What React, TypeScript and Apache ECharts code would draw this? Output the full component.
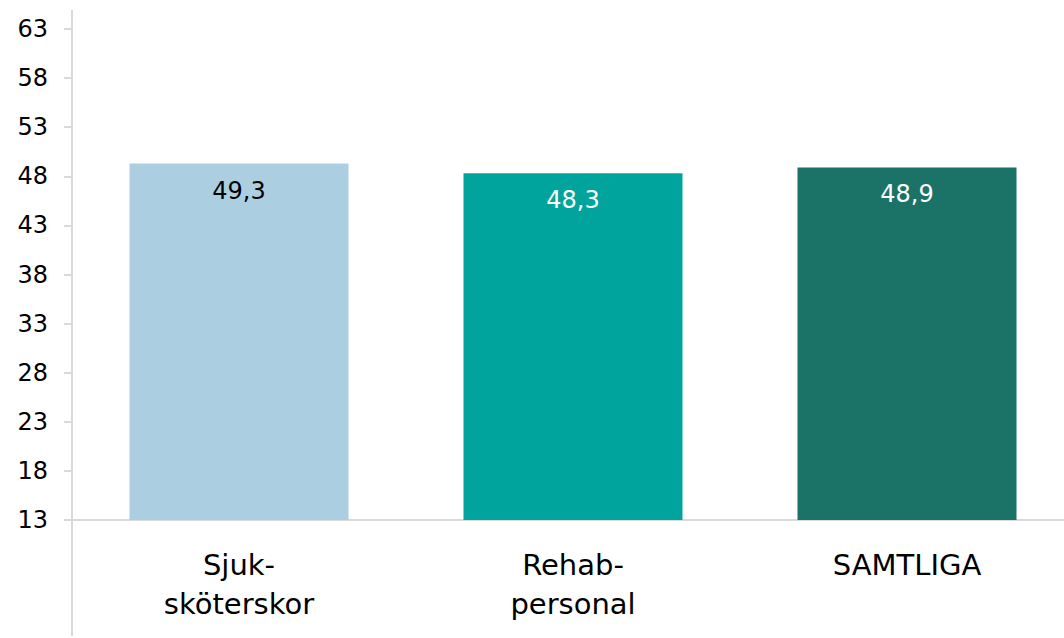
import React, { useEffect, useRef } from "react";
import * as echarts from "echarts";

const categories = ["Sjuk-\nsköterskor", "Rehab-\npersonal", "SAMTLIGA"];
const values = [49.3, 48.3, 48.9];
const barColors = ["#abcfe1", "#00a49c", "#1b7368"];
const labelColors = ["#000000", "#ffffff", "#ffffff"];
const yMin = 13;
const yMax = 63;
const yInterval = 5;

const FONT = "DejaVu Sans";
const AXIS_GRAY = "#d9d9d9";

export default function App() {
  const ref = useRef<HTMLDivElement>(null);
  useEffect(() => {
    if (!ref.current) return;
    const chart = echarts.init(ref.current, undefined, { renderer: "svg" });
    chart.setOption({
      animation: false,
      backgroundColor: "#ffffff",
      grid: {
        left: 72,
        top: 29,
        bottom: 118,
        width: 1002,
        containLabel: false,
        outerBoundsMode: "none",
      },
      xAxis: {
        type: "category",
        data: categories,
        axisLine: { show: true, lineStyle: { color: AXIS_GRAY, width: 2 } },
        axisTick: { show: false },
        axisLabel: {
          color: "#000",
          fontFamily: FONT,
          fontSize: 29,
          lineHeight: 39,
          margin: 25,
          interval: 0,
        },
      },
      yAxis: {
        type: "value",
        min: yMin,
        max: yMax,
        interval: yInterval,
        splitLine: { show: false },
        axisLine: { show: false },
        axisTick: { show: true, length: 8, lineStyle: { color: AXIS_GRAY, width: 2 } },
        axisLabel: {
          color: "#000",
          fontFamily: FONT,
          fontSize: 24,
          margin: 24,
        },
      },
      graphic: [
        {
          type: "line",
          shape: { x1: 72, y1: 10, x2: 72, y2: 636 },
          style: { stroke: AXIS_GRAY, lineWidth: 2 },
          z: 10,
        },
      ],
      series: [
        {
          type: "bar",
          barWidth: 219,
          data: values.map((v, i) => ({
            value: v,
            itemStyle: { color: barColors[i] },
            label: { color: labelColors[i] },
          })),
          label: {
            show: true,
            position: "insideTop",
            distance: 15,
            fontFamily: FONT,
            fontSize: 24,
            formatter: (p: any) => String(p.value).replace(".", ","),
          },
        },
      ],
    });
    return () => chart.dispose();
  }, []);
  return (
    <div
      ref={ref}
      style={{ position: "fixed", left: 0, top: 0, width: 1064, height: 638 }}
    />
  );
}
